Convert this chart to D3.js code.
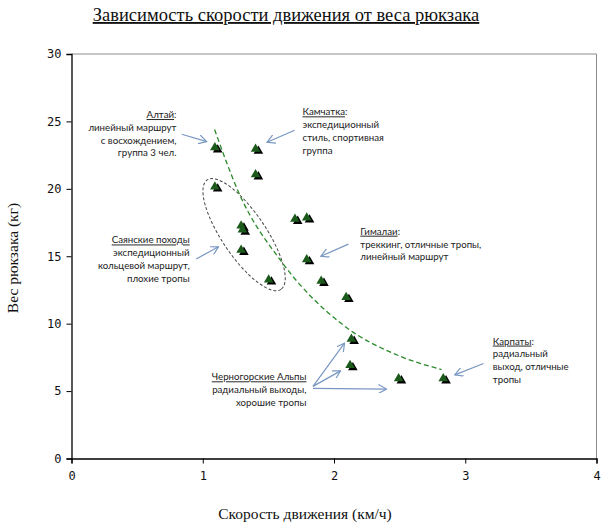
<!DOCTYPE html>
<html>
<head>
<meta charset="utf-8">
<script src="https://cdn.jsdelivr.net/npm/d3@7"></script>
<style>
  body { margin: 0; background: #fff; }
  svg { display: block; }
  .serif { font-family: "Liberation Serif", "DejaVu Serif", serif; fill: #111; }
  .note { font-family: Lato, "Open Sans", sans-serif; font-size: 9.7px; fill: #222; }
  .tick text { font-family: "DejaVu Sans Mono", monospace; font-size: 12px; fill: #111; }
</style>
</head>
<body>
<svg id="chart" width="612" height="529"></svg>
<script>
  // speed (km/h) vs backpack weight (kg)
  const speed  = [1.10, 1.41, 1.41, 1.10, 1.30, 1.31, 1.30, 1.71, 1.80, 1.80, 1.91, 1.51, 2.10, 2.14, 2.13, 2.50, 2.84];
  const weight = [23.0, 22.9, 21.0, 20.1, 17.2, 16.9, 15.4, 17.7, 17.8, 14.7, 13.1, 13.2, 11.9, 8.8, 6.85, 5.87, 5.87];

  // dashed trend line
  const trendX = [1.09, 1.28, 1.60, 2.07, 2.50, 2.82];
  const trendY = [24.4, 19.6, 14.6, 9.9, 7.6, 6.6];

  const xTicks = [0, 1, 2, 3, 4];
  const yTicks = [0, 5, 10, 15, 20, 25, 30];

  const title = 'Зависимость скорости движения от веса рюкзака';
  const xTitle = 'Скорость движения (км/ч)';
  const yTitle = 'Вес рюкзака (кг)';

  // annotations: anchor in data units, first line is the underlined place name
  const notes = [
    { x: 0.80, y: 25.5, anchor: 'end',   name: 'Алтай', lines: ['линейный маршрут', 'с восхождением,', 'группа 3 чел.'] },
    { x: 1.76, y: 25.7, anchor: 'start', name: 'Камчатка', lines: ['экспедиционный', 'стиль, спортивная', 'группа'] },
    { x: 2.20, y: 16.85, anchor: 'start', name: 'Гималаи', lines: ['треккинг, отличные тропы,', 'линейный маршрут'] },
    { x: 0.90, y: 16.2, anchor: 'end',   name: 'Саянские походы', lines: ['экспедиционный', 'кольцевой маршрут,', 'плохие тропы'], noColon: true },
    { x: 1.79, y: 6.05, anchor: 'end',   name: 'Черногорские Альпы', lines: ['радиальный выходы,', 'хорошие тропы'], noColon: true },
    { x: 3.21, y: 8.7, anchor: 'start', name: 'Карпаты', lines: ['радиальный', 'выход, отличные', 'тропы'] }
  ];

  // arrows: [x1, y1, x2, y2] in data units, head at the second point
  const arrows = [
    [0.84, 24.05, 1.03, 23.5],
    [1.70, 24.35, 1.49, 23.45],
    [2.11, 15.9, 1.90, 15.0],
    [0.95, 14.8, 1.12, 15.7],
    [1.84, 5.35, 2.08, 8.55],
    [1.84, 5.35, 2.05, 6.5],
    [1.84, 5.2, 2.40, 5.15],
    [3.14, 7.05, 2.92, 6.2]
  ];

  // Саянские ellipse centre (data units)
  const ellipseCenter = [1.315, 16.6];

  const svg = d3.select('#chart');
  const margin = { top: 54, right: 15.5, bottom: 70.5, left: 71.5 };
  const width = +svg.attr('width') - margin.left - margin.right;
  const height = +svg.attr('height') - margin.top - margin.bottom;

  const x = d3.scaleLinear().domain([0, 4]).range([0, width]);
  const y = d3.scaleLinear().domain([0, 30]).range([height, 0]);

  const g = svg.append('g').attr('transform', `translate(${margin.left},${margin.top})`);

  // top and right frame
  g.append('path')
    .attr('d', `M0,0H${width}V${height}`)
    .attr('fill', 'none')
    .attr('stroke', '#8c8c8c');

  const xAxis = g.append('g')
    .attr('transform', `translate(0,${height})`)
    .call(d3.axisBottom(x).tickValues(xTicks).tickFormat(d3.format('d')).tickSize(5).tickPadding(8));

  const yAxis = g.append('g')
    .call(d3.axisLeft(y).tickValues(yTicks).tickFormat(d3.format('d')).tickSize(5).tickPadding(5));

  [xAxis, yAxis].forEach((ax) => {
    ax.select('.domain').attr('stroke', '#000').attr('stroke-width', 1.3);
    ax.selectAll('.tick line').attr('stroke', '#000');
  });

  // ellipse around the Sayan hikes
  g.append('ellipse')
    .attr('transform', `translate(${x(ellipseCenter[0])},${y(ellipseCenter[1])}) rotate(56)`)
    .attr('rx', 66)
    .attr('ry', 22)
    .attr('fill', 'none')
    .attr('stroke', '#444')
    .attr('stroke-width', 1)
    .attr('stroke-dasharray', '3,2');

  // trend line
  const trend = trendX.map((d, i) => [d, trendY[i]]);
  g.append('path')
    .datum(trend)
    .attr('fill', 'none')
    .attr('stroke', '#2b8a2b')
    .attr('stroke-width', 1.3)
    .attr('stroke-dasharray', '5,3')
    .attr('d', d3.line().x((d) => x(d[0])).y((d) => y(d[1])).curve(d3.curveMonotoneX));

  // points drawn as little trees: black shadow + green triangle
  const tri = d3.symbol().type(d3.symbolTriangle).size(40);
  const pts = speed.map((d, i) => ({ x: d, y: weight[i] }));
  const trees = g.append('g').selectAll('g')
    .data(pts)
    .enter()
    .append('g')
    .attr('transform', (d) => `translate(${x(d.x)},${y(d.y)})`);
  trees.append('path').attr('d', tri).attr('transform', 'translate(1.8,1.3)').attr('fill', '#000');
  trees.append('path').attr('d', tri).attr('transform', 'translate(-1,-0.8)').attr('fill', '#1c5a1c');

  // arrows
  svg.append('defs').append('marker')
    .attr('id', 'head')
    .attr('viewBox', '0 0 10 10')
    .attr('refX', 9).attr('refY', 5)
    .attr('markerWidth', 9).attr('markerHeight', 9)
    .attr('markerUnits', 'userSpaceOnUse')
    .attr('orient', 'auto')
    .append('path')
    .attr('d', 'M0,0L9,5L0,10')
    .attr('fill', 'none')
    .attr('stroke', '#7897c2')
    .attr('stroke-width', 1.3);

  g.append('g').selectAll('line')
    .data(arrows)
    .enter()
    .append('line')
    .attr('x1', (d) => x(d[0])).attr('y1', (d) => y(d[1]))
    .attr('x2', (d) => x(d[2])).attr('y2', (d) => y(d[3]))
    .attr('stroke', '#7897c2')
    .attr('stroke-width', 1.2)
    .attr('marker-end', 'url(#head)');

  // annotation texts
  const lineH = 12.8;
  notes.forEach((n) => {
    const t = g.append('text')
      .attr('class', 'note')
      .attr('text-anchor', n.anchor)
      .attr('x', x(n.x))
      .attr('y', y(n.y))
      .attr('dy', '0.35em');
    const head = t.append('tspan').attr('x', x(n.x));
    head.append('tspan').attr('text-decoration', 'underline').text(n.name);
    if (!n.noColon) head.append('tspan').text(':');
    n.lines.forEach((l) => {
      t.append('tspan').attr('x', x(n.x)).attr('dy', lineH).text(l);
    });
  });

  // titles
  svg.append('text')
    .attr('class', 'serif')
    .attr('x', 286)
    .attr('y', 21)
    .attr('text-anchor', 'middle')
    .attr('font-size', 18.5)
    .attr('text-decoration', 'underline')
    .text(title);

  svg.append('text')
    .attr('class', 'serif')
    .attr('x', 305)
    .attr('y', 519)
    .attr('text-anchor', 'middle')
    .attr('font-size', 15.5)
    .text(xTitle);

  svg.append('text')
    .attr('class', 'serif')
    .attr('transform', `translate(18,258) rotate(-90)`)
    .attr('text-anchor', 'middle')
    .attr('font-size', 15.5)
    .text(yTitle);
</script>
</body>
</html>
